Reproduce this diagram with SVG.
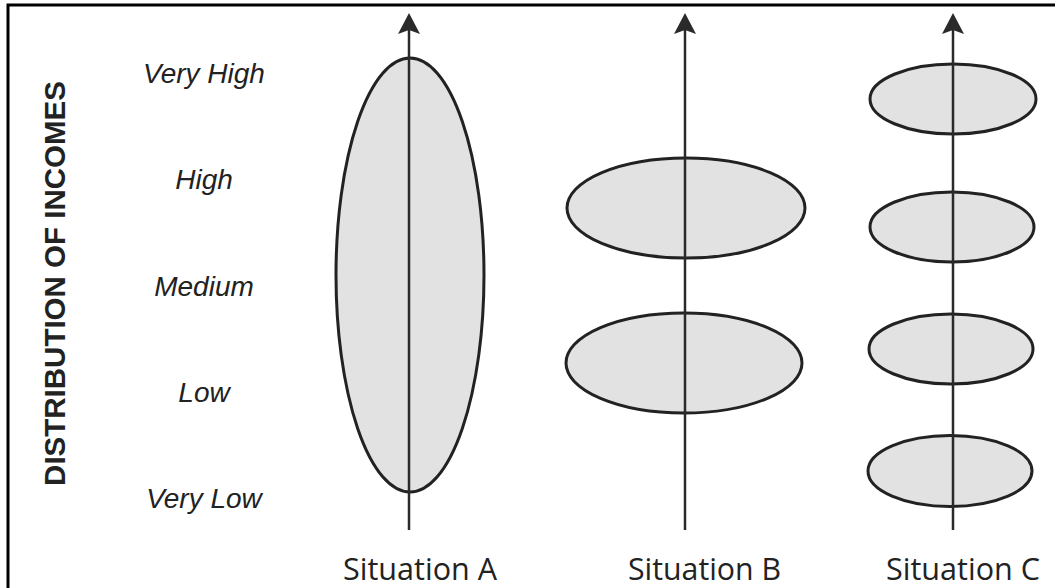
<svg xmlns="http://www.w3.org/2000/svg" width="1055" height="588" viewBox="0 0 1055 588">
<style>
.lvl{font-family:"Liberation Sans",Arial,sans-serif;font-style:italic;font-size:28px;fill:#222;text-anchor:middle}
.sit{font-family:"Open Sans","Noto Sans",sans-serif;font-size:31px;fill:#222}
.ttl{font-family:"Liberation Sans",Arial,sans-serif;font-weight:bold;font-size:29.5px;fill:#222;text-anchor:middle}
.blob{fill:#e2e2e2;stroke:#222;stroke-width:3}
.axis{stroke:#2a2a2a;stroke-width:2.5;fill:none}
.head{fill:#2a2a2a}
</style>
<defs>
<path id="ah" d="M0,0 L11,21 L0,17 L-11,21 Z"/>
</defs>
<path d="M8,588 L8,5 L1055,5" fill="none" stroke="#000" stroke-width="3"/>
<g id="title"><text class="ttl" transform="translate(65,283.5) rotate(-90)">DISTRIBUTION OF INCOMES</text></g>
<g id="levels">
<text class="lvl" x="204" y="83">Very High</text>
<text class="lvl" x="204" y="189">High</text>
<text class="lvl" x="204" y="296">Medium</text>
<text class="lvl" x="204" y="402">Low</text>
<text class="lvl" x="204" y="508">Very Low</text>
</g>
<g id="situationA">
<ellipse class="blob" cx="410" cy="275" rx="74" ry="217"/>
<text class="sit" x="343" y="580" textLength="154" lengthAdjust="spacingAndGlyphs">Situation A</text>
</g>
<g id="situationB">
<ellipse class="blob" cx="686" cy="208" rx="119" ry="50"/>
<ellipse class="blob" cx="684" cy="363" rx="118" ry="50"/>
<text class="sit" x="628" y="580" textLength="153" lengthAdjust="spacingAndGlyphs">Situation B</text>
</g>
<g id="situationC">
<ellipse class="blob" cx="953" cy="99" rx="83" ry="35"/>
<ellipse class="blob" cx="952" cy="227" rx="82" ry="35"/>
<ellipse class="blob" cx="951" cy="349" rx="82" ry="35"/>
<ellipse class="blob" cx="950" cy="471" rx="82" ry="35.5"/>
<text class="sit" x="886" y="580" textLength="154" lengthAdjust="spacingAndGlyphs">Situation C</text>
</g>
<g id="connectors">
<line class="axis" x1="409" y1="28" x2="409" y2="530"/>
<use href="#ah" class="head" x="409" y="13"/>
<line class="axis" x1="685" y1="28" x2="685" y2="530"/>
<use href="#ah" class="head" x="685" y="13"/>
<line class="axis" x1="953" y1="28" x2="953" y2="530"/>
<use href="#ah" class="head" x="953" y="13"/>
</g>
</svg>
